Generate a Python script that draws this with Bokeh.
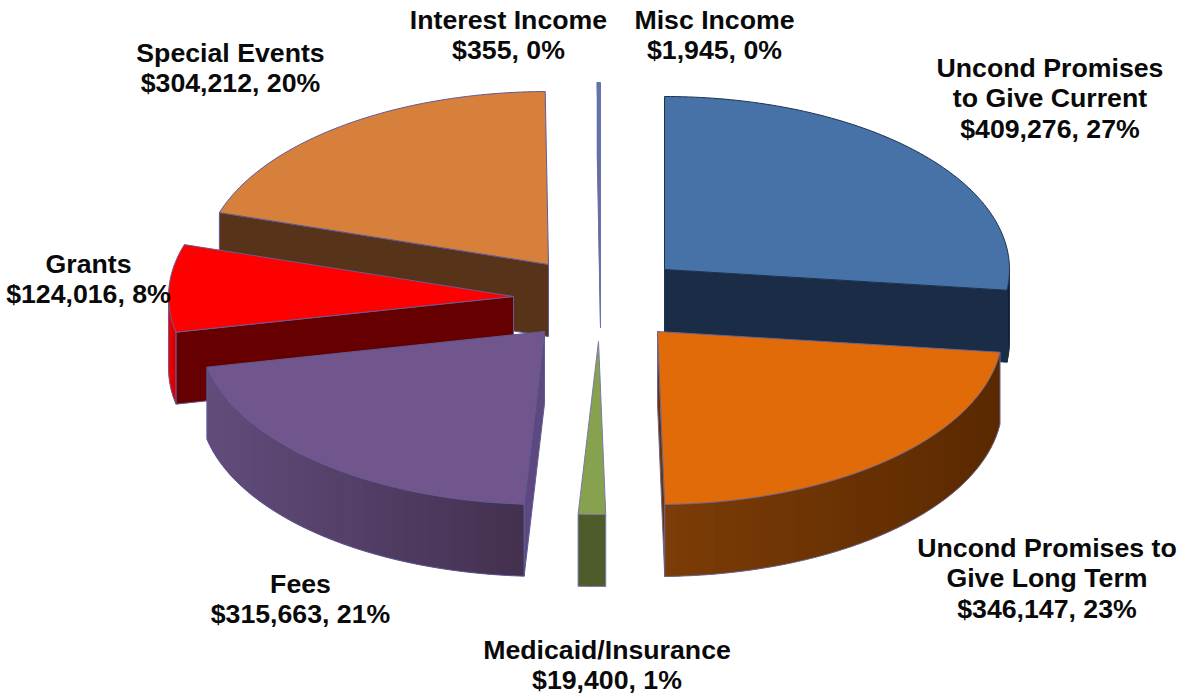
import math
from bokeh.plotting import figure
from bokeh.models import ColumnDataSource, LabelSet, Range1d
from bokeh.core.properties import value
from bokeh.embed import file_html
from bokeh.resources import INLINE

# ---- data ----
names = ["Uncond Promises to Give Current", "Uncond Promises to Give Long Term",
         "Medicaid/Insurance", "Fees", "Grants", "Special Events",
         "Interest Income", "Misc Income"]
values = [409276, 346147, 19400, 315663, 124016, 304212, 355, 1945]
label_lines = [["Uncond Promises", "to Give Current"], ["Uncond Promises to", "Give Long Term"],
               ["Medicaid/Insurance"], ["Fees"], ["Grants"], ["Special Events"],
               ["Interest Income"], ["Misc Income"]]

# ---- styling / layout (page pixels) ----
top_colors = ["#4672a8", "#e16b09", "#87a24e", "#70568c", "#fe0000", "#d7803c", "#5b7fbb", "#5a78b4"]
radial_colors = ["#1a2c46", "#6a3305", "#4e5c2c", "#5d4880", "#660000", "#57331a", "#5a5a98", "#5a5a98"]
wall_left = ["#16263c", "#7c3c07", "#4e5c2c", "#624c7c", "#f80000", "#57331a", "#5a5a98", "#5a5a98"]
wall_right = ["#0f1a2a", "#5a2900", "#4e5c2c", "#43304f", "#d00000", "#57331a", "#5a5a98", "#5a5a98"]
outline = ["#1c3350", "#6b6590", "#7b78a8", "#5f5a96", "#6a5a96", "#5f5a96", "#6a70a8", "#6a70a8"]
apex_x = [664, 657, 598, 544, 513, 548, 600, 600]
apex_y = [269, 331, 341, 331, 296, 264, 255, 255]
RX, RY, DEPTH = 345, 173, 72
draw_order = [5, 6, 7, 0, 4, 3, 2, 1]
label_x = [1049.5, 1046.5, 606.5, 300, 88, 230, 508, 714]
label_y = [76, 556, 658, 592, 272, 61, 28, 28]
LINE_STEP = 30.7

W, H = 1185, 698
p = figure(width=W, height=H, output_backend="svg", toolbar_location=None,
           x_range=Range1d(0, W), y_range=Range1d(H, 0),
           min_border=0, outline_line_color=None, background_fill_color="white")
p.axis.visible = False
p.grid.visible = False

total = sum(values)
starts, acc = [], 0
for v in values:
    starts.append(acc / total * 360)
    acc += v
ends = starts[1:] + [360.0]


def pt(i, th, d=0):
    r = math.radians(th)
    return apex_x[i] + RX * math.sin(r), apex_y[i] - RY * math.cos(r) + d


def arc(i, a, b, n):
    n = max(n, 1)
    return [pt(i, a + (b - a) * k / n) for k in range(n + 1)]


def mix(c1, c2, t):
    a = [int(c1[j:j + 2], 16) for j in (1, 3, 5)]
    b = [int(c2[j:j + 2], 16) for j in (1, 3, 5)]
    return "#%02x%02x%02x" % tuple(round(x + (y - x) * t) for x, y in zip(a, b))


def poly(pts, fill, line=None, width=1.0):
    p.patch([q[0] for q in pts], [q[1] for q in pts], fill_color=fill,
            line_color=line, line_width=width)


for i in draw_order:
    a, b = starts[i], ends[i]
    ax, ay = apex_x[i], apex_y[i]
    # radial faces that look toward the viewer
    for th in (a, b):
        s = math.sin(math.radians(th))
        faces_front = (th == a and s < 0) or (th == b and s > 0)
        if faces_front:
            e = pt(i, th)
            poly([(ax, ay), e, (e[0], e[1] + DEPTH), (ax, ay + DEPTH)],
                 radial_colors[i], outline[i], 1.0)
    # outer wall on the front half
    lo, hi = max(a, 90), min(b, 270)
    if hi > lo:
        n = max(int((hi - lo) / 2), 1)
        xs = arc(i, lo, hi, n)
        # the gradient runs from left to right across the screen
        xmin, xmax = min(q[0] for q in xs), max(q[0] for q in xs)
        for k in range(n):
            q0, q1 = xs[k], xs[min(k + 2, n)]
            mid = xs[k + 1]
            t = ((q0[0] + mid[0]) / 2 - xmin) / max(xmax - xmin, 1)
            c = mix(wall_left[i], wall_right[i], t)
            poly([q0, mid, q1, (q1[0], q1[1] + DEPTH), (mid[0], mid[1] + DEPTH),
                  (q0[0], q0[1] + DEPTH)], c)
        low = [(q[0], q[1] + DEPTH) for q in xs]
        p.line([q[0] for q in low], [q[1] for q in low], line_color=outline[i], line_width=1.0)
        for q in (xs[0], xs[-1]):
            p.line([q[0], q[0]], [q[1], q[1] + DEPTH], line_color=outline[i], line_width=1.0)
    # top face
    top = [(ax, ay)] + arc(i, a, b, int((b - a) / 1.0) + 1)
    poly(top, top_colors[i], outline[i], 1.0)

# ---- labels ----
tx, ty, tt = [], [], []
for i, v in enumerate(values):
    lines = label_lines[i] + [f"${v:,}, {round(100 * v / total)}%"]
    for k, s in enumerate(lines):
        tx.append(label_x[i])
        ty.append(label_y[i] + k * LINE_STEP)
        tt.append(s)
src = ColumnDataSource(dict(x=tx, y=ty, t=tt))
p.add_layout(LabelSet(x="x", y="y", text="t", source=src, text_align="center",
                      text_baseline="alphabetic", text_font=value("Liberation Sans"),
                      text_font_style="bold", text_font_size=value("26.7px"),
                      text_color="#0a0a0a"))

open("out.html", "w").write(file_html(p, INLINE))
